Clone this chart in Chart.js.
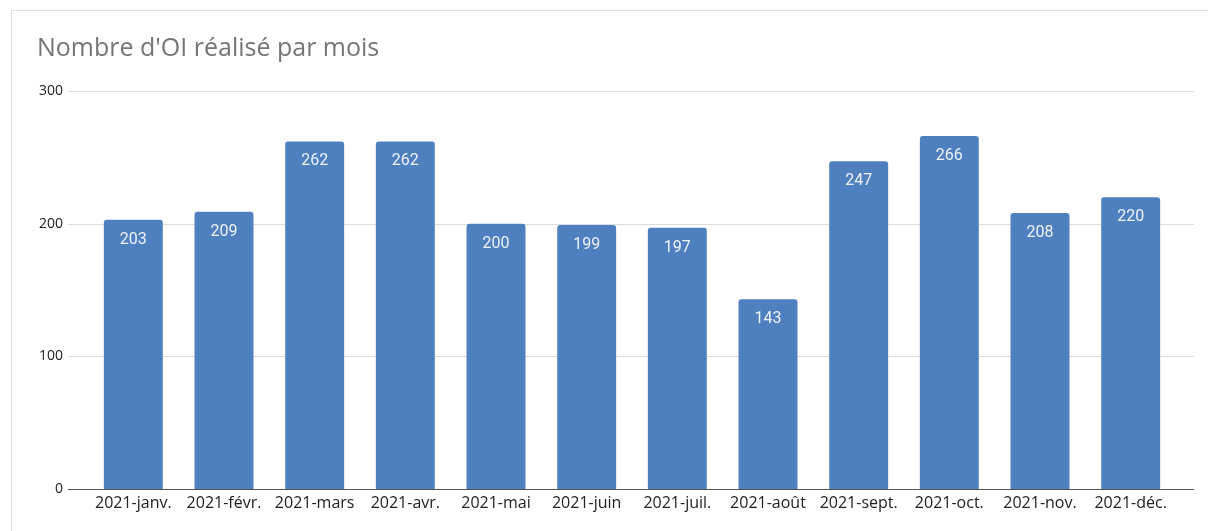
<!DOCTYPE html>
<html lang="fr">
<head>
<meta charset="utf-8">
<title>Nombre d'OI réalisé par mois</title>
<script src="https://cdn.jsdelivr.net/npm/chart.js@4.4.1/dist/chart.umd.min.js"></script>
<style>
  html, body { margin: 0; padding: 0; background: #ffffff; overflow: hidden; }
  body { width: 1208px; height: 531px; position: relative; }
  .card {
    position: absolute; left: 11px; top: 10px; width: 1240px; height: 560px;
    border: 1px solid #dedede; box-sizing: border-box; background: #fff;
  }
  #wrap { position: absolute; left: 0; top: 0; width: 1208px; height: 531px; }
</style>
</head>
<body>
<div class="card"></div>
<div id="wrap"><canvas id="chart" width="1208" height="531"></canvas></div>
<script>
// Monthly counts of completed OI for 2021
const months = ['2021-janv.', '2021-févr.', '2021-mars', '2021-avr.', '2021-mai', '2021-juin',
                '2021-juil.', '2021-août', '2021-sept.', '2021-oct.', '2021-nov.', '2021-déc.'];
const oiCounts = [203, 209, 262, 262, 200, 199, 197, 143, 247, 266, 208, 220];
const yTicks = [0, 100, 200, 300];

const BAR_COLOR = '#4e7fbe';

// Horizontal grid lines drawn a little wider than the bar area
const gridPlugin = {
  id: 'wideGrid',
  beforeDatasetsDraw(chart) {
    const { ctx, chartArea, scales } = chart;
    const y = scales.y;
    ctx.save();
    yTicks.forEach(v => {
      const py = Math.round(y.getPixelForValue(v)) + 0.5;
      ctx.beginPath();
      ctx.lineWidth = 1;
      ctx.strokeStyle = v === 0 ? '#555555' : '#dcdcdc';
      ctx.moveTo(chartArea.left - 20, py);
      ctx.lineTo(chartArea.right + 18, py);
      ctx.stroke();
    });
    ctx.restore();
  },
  afterDatasetsDraw(chart) {
    // value labels inside the top of each bar
    const { ctx } = chart;
    const meta = chart.getDatasetMeta(0);
    ctx.save();
    ctx.font = '16px Roboto, "Open Sans", sans-serif';
    ctx.fillStyle = '#eef3fb';
    ctx.textAlign = 'center';
    ctx.textBaseline = 'middle';
    meta.data.forEach((bar, i) => {
      ctx.fillText(String(oiCounts[i]), bar.x, bar.y + 20);
    });
    ctx.restore();
  }
};

new Chart(document.getElementById('chart'), {
  type: 'bar',
  data: {
    labels: months,
    datasets: [{
      data: oiCounts,
      backgroundColor: BAR_COLOR,
      borderWidth: 0,
      borderRadius: { topLeft: 3, topRight: 3, bottomLeft: 0, bottomRight: 0 },
      borderSkipped: 'start',
      categoryPercentage: 1.0,
      barPercentage: 0.65
    }]
  },
  plugins: [gridPlugin],
  options: {
    responsive: false,
    animation: false,
    devicePixelRatio: 1,
    layout: { padding: { left: 37, right: 32, top: 30, bottom: 12 } },
    plugins: {
      legend: { display: false },
      tooltip: { enabled: false },
      title: {
        display: true,
        text: "Nombre d'OI réalisé par mois",
        align: 'start',
        color: '#757575',
        font: { family: '"Open Sans", sans-serif', size: 25, weight: 'normal' },
        padding: { top: 4, bottom: 27 }
      }
    },
    scales: {
      x: {
        grid: { display: false, drawTicks: false },
        border: { display: false },
        ticks: {
          color: '#222222',
          font: { family: '"Open Sans", sans-serif', size: 16 },
          padding: 5,
          maxRotation: 0,
          autoSkip: false
        },
        afterFit(scale) {
          scale.height = 30;
          scale.paddingLeft = 0;
          scale.paddingRight = 0;
        }
      },
      y: {
        min: 0,
        max: 300,
        grid: { display: false, drawTicks: false },
        border: { display: false },
        afterBuildTicks(scale) { scale.ticks = yTicks.map(v => ({ value: v })); },
        ticks: {
          color: '#222222',
          font: { family: '"Open Sans", sans-serif', size: 14 },
          padding: 25
        },
        afterFit(scale) { scale.width = 51; }
      }
    }
  }
});
</script>
</body>
</html>
